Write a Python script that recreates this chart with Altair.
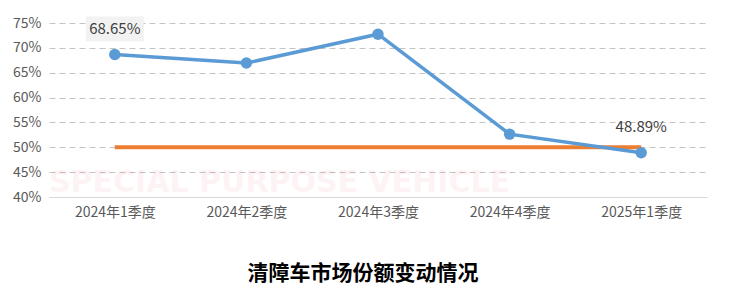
import altair as alt
import pandas as pd

quarters = ["2024年1季度", "2024年2季度", "2024年3季度", "2024年4季度", "2025年1季度"]
share = [0.6865, 0.6695, 0.7275, 0.5265, 0.4889]
baseline = [0.50, 0.50, 0.50, 0.50, 0.50]
labels = ["68.65%", "", "", "", "48.89%"]
label_boxed = [True, False, False, False, False]
y_ticks = [0.40, 0.45, 0.50, 0.55, 0.60, 0.65, 0.70, 0.75]
title_text = "清障车市场份额变动情况"
watermark = "SPECIAL  PURPOSE  VEHICLE"

df = pd.DataFrame({
    "quarter": quarters,
    "share": share,
    "baseline": baseline,
    "label": labels,
    "boxed": label_boxed,
})

FONT = "Noto Sans CJK SC"

x_enc = alt.X("quarter:N", sort=quarters,
              axis=alt.Axis(title=None, labelAngle=0, ticks=False, domain=True,
                            domainColor="#d9d9d9", domainWidth=1.2, labelPadding=8,
                            labelFontSize=14, labelColor="#595959", labelFont=FONT))
y_scale = alt.Scale(domain=[0.40, 0.75], nice=False, zero=False)
y_axis = alt.Axis(title=None, values=y_ticks, format=".0%", ticks=False, domain=False,
                  grid=True, gridColor="#c4c4c4", gridDash=[6, 4], gridWidth=1,
                  labelFontSize=14, labelColor="#595959", labelFont=FONT, labelPadding=8)


def y_of(field):
    return alt.Y(f"{field}:Q", scale=y_scale, axis=y_axis)


base = alt.Chart(df)

wm = alt.Chart(pd.DataFrame({"t": [watermark]})).mark_text(
    font="DejaVu Sans", fontWeight="bold", fontSize=30, color="#e8353a", opacity=0.05,
    align="left", baseline="middle"
).encode(text="t:N", x=alt.value(0), y=alt.value(160))

orange = base.mark_line(color="#ed7d31", strokeWidth=4).encode(x=x_enc, y=y_of("baseline"))

blue_line = base.mark_line(color="#5b9bd5", strokeWidth=3.5).encode(x=x_enc, y=y_of("share"))
blue_pts = base.mark_point(color="#5b9bd5", filled=True, opacity=1, size=130).encode(
    x=x_enc, y=y_of("share"))

box = base.transform_filter("datum.boxed").mark_point(
    shape="M-1,-0.431L1,-0.431L1,0.431L-1,0.431Z", size=3364, filled=True,
    color="#f2f2f2", opacity=1, yOffset=-25.5
).encode(x=x_enc, y=y_of("share"))

txt = base.mark_text(fontSize=15, color="#404040", font=FONT, dy=-25.5, baseline="middle").encode(
    x=x_enc, y=y_of("share"), text="label:N")

chart = alt.layer(wm, orange, blue_line, blue_pts, box, txt).properties(
    width=658, height=174,
    background="white",
    title=alt.TitleParams(title_text, orient="bottom", anchor="middle", fontSize=21,
                          fontWeight="bold", color="#000000", font=FONT, offset=44, dx=-15),
    autosize=alt.AutoSizeParams(type="none"),
    padding={"left": 49, "top": 23, "right": 43, "bottom": 96},
).configure_view(strokeWidth=0, stroke=None)

chart.save("out.html", embed_options={"renderer": "svg", "actions": False})
